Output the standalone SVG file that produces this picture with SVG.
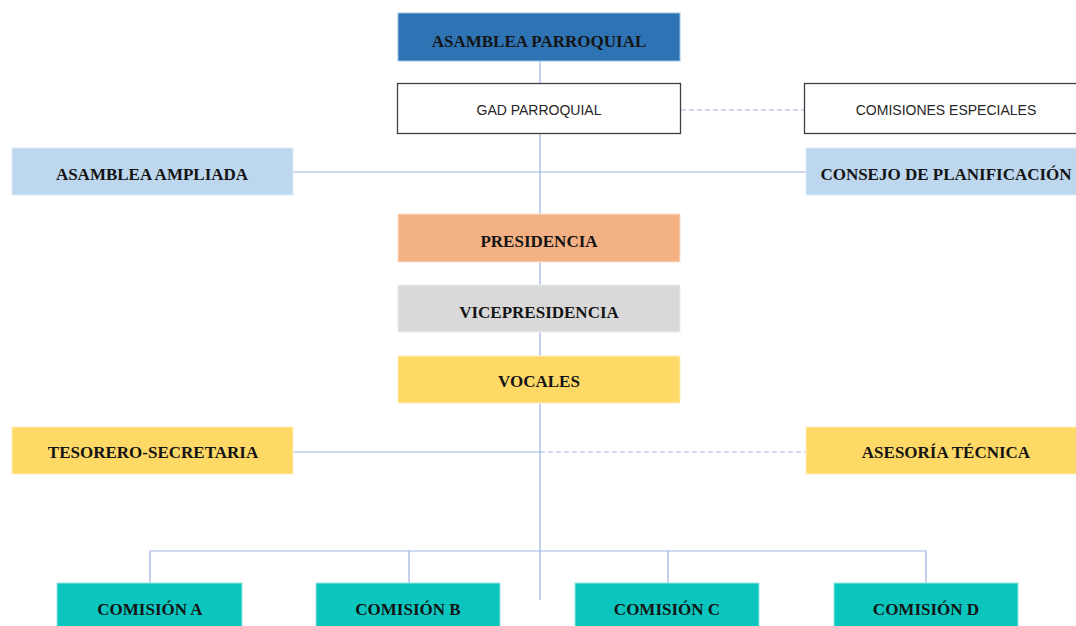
<svg xmlns="http://www.w3.org/2000/svg" width="1076" height="626" viewBox="0 0 1076 626">
<style>
.lbl{font-family:"Liberation Serif","Times New Roman",serif;font-weight:bold;font-size:17px;fill:#141414;text-anchor:middle;dominant-baseline:central}
.sans{font-family:"Liberation Sans",Arial,sans-serif;font-size:14px;fill:#262626;text-anchor:middle;dominant-baseline:central}
.ln{stroke:#9fb3e0;stroke-width:1.2;fill:none}
.dash{stroke-dasharray:5 3}
</style>
<rect width="1076" height="626" fill="#ffffff"/>
<g id="connectors">
<line class="ln" x1="540" y1="61" x2="540" y2="600"/>
<line class="ln" x1="293" y1="172" x2="806" y2="172"/>
<line class="ln dash" x1="681" y1="110" x2="804" y2="110"/>
<line class="ln" x1="293" y1="452" x2="540" y2="452"/>
<line class="ln dash" x1="540" y1="452" x2="806" y2="452"/>
<polyline class="ln" points="150,583 150,551 926,551 926,583"/>
<line class="ln" x1="409" y1="551" x2="409" y2="583"/>
<line class="ln" x1="668" y1="551" x2="668" y2="583"/>
</g>
<g id="asamblea-parroquial"><rect x="398" y="13" width="282" height="48" fill="#2e74b5" stroke="#9cc3e6" stroke-width="1"/><text class="lbl" x="539" y="41">ASAMBLEA PARROQUIAL</text></g>
<g id="gad-parroquial"><rect x="397.5" y="83.5" width="283" height="50" fill="#ffffff" stroke="#404040" stroke-width="1.3"/><text class="sans" x="539" y="110">GAD PARROQUIAL</text></g>
<g id="comisiones-especiales"><rect x="804.5" y="83.5" width="280" height="50" fill="#ffffff" stroke="#404040" stroke-width="1.3"/><text class="sans" x="946" y="110">COMISIONES ESPECIALES</text></g>
<g id="asamblea-ampliada"><rect x="12" y="148" width="281" height="47" fill="#bdd7ee" stroke="#deebf7" stroke-width="1"/><text class="lbl" x="152" y="174">ASAMBLEA AMPLIADA</text></g>
<g id="consejo-planificacion"><rect x="806" y="148" width="280" height="47" fill="#bdd7ee" stroke="#deebf7" stroke-width="1"/><text class="lbl" x="946" y="174">CONSEJO DE PLANIFICACIÓN</text></g>
<g id="presidencia"><rect x="398" y="214" width="282" height="48" fill="#f4b183" stroke="#fbe0cc" stroke-width="1"/><text class="lbl" x="539" y="241">PRESIDENCIA</text></g>
<g id="vicepresidencia"><rect x="398" y="285" width="282" height="47" fill="#d9d9d9" stroke="#ededed" stroke-width="1"/><text class="lbl" x="539" y="312">VICEPRESIDENCIA</text></g>
<g id="vocales"><rect x="398" y="356" width="282" height="47" fill="#ffd966" stroke="#fff0c0" stroke-width="1"/><text class="lbl" x="539" y="381">VOCALES</text></g>
<g id="tesorero-secretaria"><rect x="12" y="427" width="281" height="47" fill="#ffd966" stroke="#fff0c0" stroke-width="1"/><text class="lbl" x="153" y="452">TESORERO-SECRETARIA</text></g>
<g id="asesoria-tecnica"><rect x="806" y="427" width="280" height="47" fill="#ffd966" stroke="#fff0c0" stroke-width="1"/><text class="lbl" x="946" y="452">ASESORÍA TÉCNICA</text></g>
<g id="comision-a"><rect x="57" y="583" width="185" height="50" fill="#0ac6be" stroke="#9ee6e2" stroke-width="1"/><text class="lbl" x="150" y="609">COMISIÓN A</text></g>
<g id="comision-b"><rect x="316" y="583" width="184" height="50" fill="#0ac6be" stroke="#9ee6e2" stroke-width="1"/><text class="lbl" x="408" y="609">COMISIÓN B</text></g>
<g id="comision-c"><rect x="575" y="583" width="184" height="50" fill="#0ac6be" stroke="#9ee6e2" stroke-width="1"/><text class="lbl" x="667" y="609">COMISIÓN C</text></g>
<g id="comision-d"><rect x="834" y="583" width="184" height="50" fill="#0ac6be" stroke="#9ee6e2" stroke-width="1"/><text class="lbl" x="926" y="609">COMISIÓN D</text></g>
</svg>
